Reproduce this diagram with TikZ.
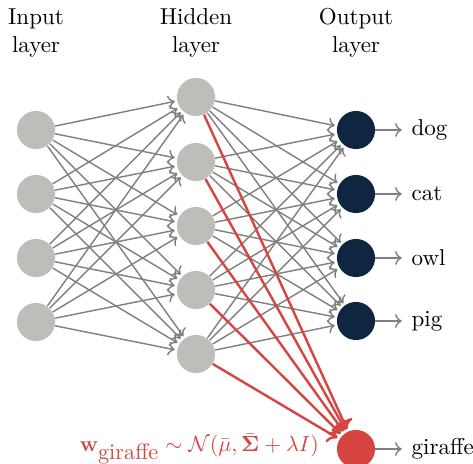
\documentclass[tikz,border=0pt]{standalone}
\usepackage{amsmath}
\usepackage{amssymb}
\usepackage{tikz}
\usetikzlibrary{arrows.meta,positioning}

\definecolor{nodegray}{RGB}{190,189,185}
\definecolor{outnavy}{RGB}{15,37,64}
\definecolor{giraffered}{RGB}{214,69,65}
\definecolor{edgegray}{RGB}{128,128,128}

\begin{document}
\begin{tikzpicture}[x=0.4566pt, y=-0.4566pt, node distance=13pt,
  font=\fontsize{10.5pt}{12.6pt}\selectfont,
  neuron/.style={circle, minimum size=17.4pt, inner sep=0pt},
  hid/.style={neuron, fill=nodegray},
  outp/.style={neuron, fill=outnavy},
  wire/.style={draw=edgegray, line width=0.65pt, -{To}, shorten >=1pt},
  redwire/.style={draw=giraffered, line width=1.1pt, -{To}, shorten >=1pt}]
  \useasboundingbox (0,0) rectangle (473,464);
  % layer titles
  \node (tin) [align=center] at (36,33) {Input\\layer};
  \node (thid) [align=center] at (196,33) {Hidden\\layer};
  \node (tout) [align=center] at (356,33) {Output\\layer};
  % neurons
  \foreach \i/\y in {1/130,2/194,3/258,4/322}
    \node (in\i) [hid] at (36,\y) {};
  \foreach \i/\y in {1/97,2/162,3/226,4/290,5/354}
    \node (h\i) [hid] at (196,\y) {};
  \foreach \i/\y/\t in {1/130/dog,2/194/cat,3/258/owl,4/321/pig} {
    \node (out\i) [outp] at (356,\y) {};
    \node (lab\i) [right=of out\i] {\t};
    \draw[wire] (out\i) -- (lab\i);
  }
  \node (gir) [neuron, fill=giraffered] at (356,449) {};
  \node (labgir) [right=of gir] {giraffe};
  \draw[wire] (gir) -- (labgir);
  \node (wgir) [left=1.6mm of gir, text=giraffered, font=\fontsize{10.2pt}{12pt}\selectfont]
    {$\mathbf{w}_{\mbox{giraffe}} \sim \mathcal{N}(\bar{\mu}, \bar{\boldsymbol{\Sigma}} + \lambda I)$};
  % connections
  \foreach \i in {1,...,4}
    \foreach \j in {1,...,5}
      \draw[wire] (in\i) -- (h\j);
  \foreach \j in {1,...,5}
    \foreach \k in {1,...,4}
      \draw[wire] (h\j) -- (out\k);
  \foreach \j in {1,...,5}
    \draw[redwire] (h\j) -- (gir);
\end{tikzpicture}
\end{document}
